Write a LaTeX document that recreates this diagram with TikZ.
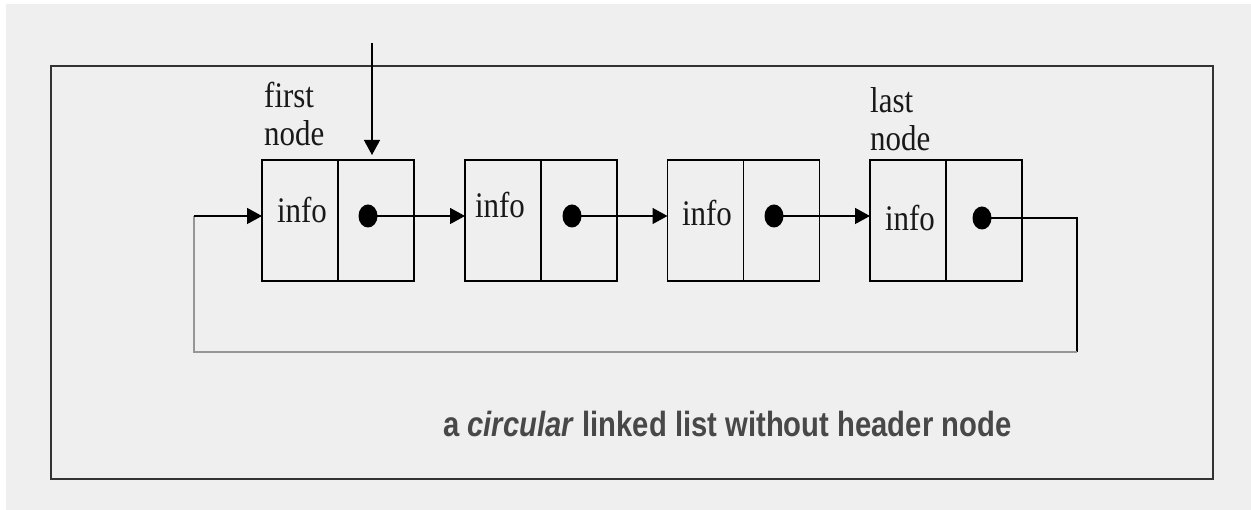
\documentclass[tikz,border=0pt]{standalone}
\usepackage{fontspec}
\setmainfont{Liberation Serif}
\setsansfont{Liberation Sans}
\usetikzlibrary{arrows.meta,shapes.geometric}
\definecolor{paper}{RGB}{239,239,239}
\definecolor{framegray}{RGB}{51,51,51}
\definecolor{loopgray}{RGB}{150,150,150}
\definecolor{captiongray}{RGB}{72,72,72}
% narrow, tall lettering
\newcommand{\narrowtext}[1]{\scalebox{0.86}[1]{#1}}
\tikzset{
  cell/.style={draw=black, line width=1.4pt, minimum width=76pt, minimum height=121pt,
    inner sep=0pt, outer sep=0pt},
  dot/.style={ellipse, fill=black, minimum width=19pt, minimum height=23pt, inner sep=0pt},
  lbl/.style={font=\fontsize{36}{38}\selectfont, inner sep=0pt, text=black!90},
  link/.style={draw=black, line width=1.4pt, -{Triangle[length=15pt,width=16pt]}},
  plain/.style={draw=black, line width=1.4pt},
  faint/.style={draw=loopgray, line width=1.6pt},
  frame/.style={draw=framegray, line width=2pt},
}
\begin{document}
\begin{tikzpicture}[x=1pt,y=-1pt]
  % page and background
  \fill[white] (0,0) rectangle (1251,510);
  \fill[paper] (6,4) rectangle (1251,510);
  \useasboundingbox (0,0) rectangle (1251,510);

  % surrounding frame
  \draw[frame] (51,66) rectangle (1213,479);

  % the four list nodes: info cell + pointer cell
  \node[cell] (i1) at (300,220.5) {};
  \node[cell] (p1) at (376,220.5) {};
  \node[cell] (i2) at (503,220.5) {};
  \node[cell] (p2) at (579,220.5) {};
  \node[cell] (i3) at (705.5,220.5) {};
  \node[cell] (p3) at (781.5,220.5) {};
  \node[cell] (i4) at (908,220.5) {};
  \node[cell] (p4) at (984,220.5) {};

  % info labels
  \node[lbl, anchor=base] (t1) at (302,223) {\narrowtext{info}};
  \node[lbl, anchor=base] (t2) at (500,218) {\narrowtext{info}};
  \node[lbl, anchor=base] (t3) at (707,226) {\narrowtext{info}};
  \node[lbl, anchor=base] (t4) at (910,231) {\narrowtext{info}};

  % pointer dots
  \node[dot] (d1) at (368,216) {};
  \node[dot] (d2) at (572,216) {};
  \node[dot] (d3) at (774,216) {};
  \node[dot] (d4) at (982,218) {};

  % first / last captions
  \node[lbl, anchor=base west] (fst) at (264,108) {\narrowtext{first}};
  \node[lbl, anchor=base west] (fstb) at (264,146) {\narrowtext{node}};
  \node[lbl, anchor=base west] (lst) at (870,113) {\narrowtext{last}};
  \node[lbl, anchor=base west] (lstb) at (870,151) {\narrowtext{node}};

  % external pointer to the first node
  \coordinate (ext) at (372,43);
  \draw[link, shorten >=5pt] (ext) -- (ext |- p1.north);

  % links between consecutive nodes
  \draw[link] (d1.center) -- (d1 -| i2.west);
  \draw[link] (d2.center) -- (d2 -| i3.west);
  \draw[link] (d3.center) -- (d3 -| i4.west);

  % wrap-around link from the last node back to the first
  \coordinate (cr) at (1077,352);
  \coordinate (cl) at (194,352);
  \coordinate (cu) at (194,216);
  \draw[plain] (d4.center) -| (cr);
  \draw[faint] (cr) -- (cl) -- (cu);
  \draw[link] (cu) -- (cu -| i1.west);

  % caption
  \node[anchor=base west, inner sep=0pt, text=captiongray] (cap) at (443,437)
    {\scalebox{0.835}[1]{\fontsize{35}{40}\selectfont\sffamily\bfseries a \textit{circular} linked list without header node}};
\end{tikzpicture}
\end{document}
